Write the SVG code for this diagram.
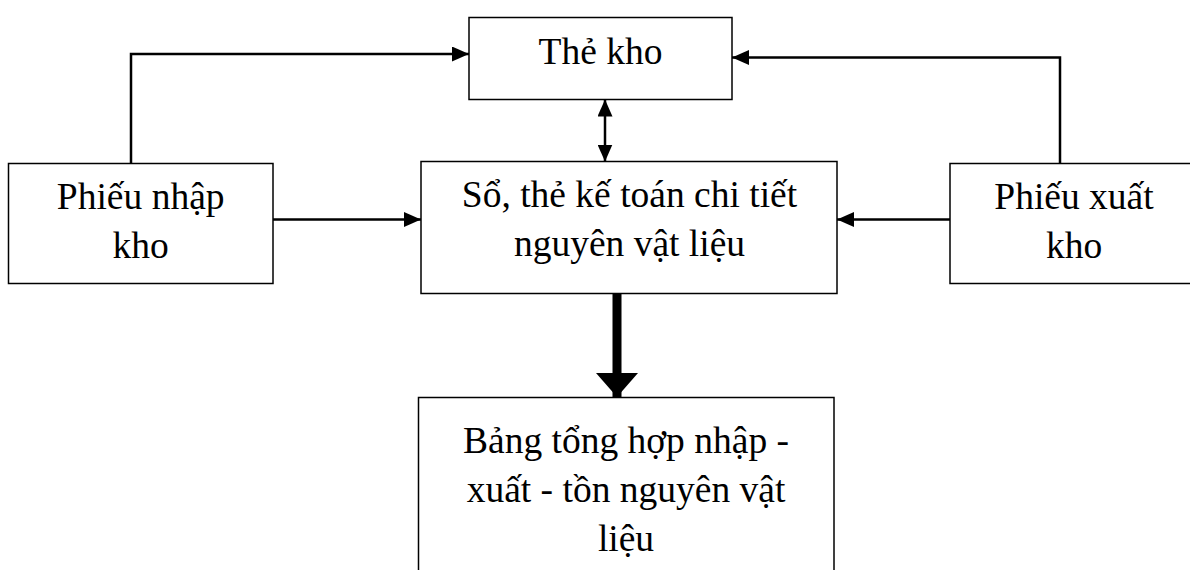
<svg xmlns="http://www.w3.org/2000/svg" width="1190" height="570" viewBox="0 0 1190 570">
  <style>
    .box { fill: #ffffff; stroke: #000000; stroke-width: 1.5; }
    .lbl { font-family: "Liberation Serif", "Times New Roman", serif; font-size: 37.5px; fill: #000000; text-anchor: middle; }
    .wire { fill: none; stroke: #000000; stroke-width: 2.5; }
    .thick { fill: none; stroke: #000000; stroke-width: 9; }
  </style>
  <defs>
    <marker id="head" markerUnits="userSpaceOnUse" markerWidth="17" markerHeight="15" refX="17" refY="7.5" orient="auto-start-reverse">
      <path d="M0,0 L17,7.5 L0,15 z" fill="#000000"/>
    </marker>
    <marker id="bighead" markerUnits="userSpaceOnUse" markerWidth="24" markerHeight="42" refX="24" refY="21" orient="auto">
      <path d="M0,0 L24,21 L0,42 z" fill="#000000"/>
    </marker>
  </defs>
  <rect width="1190" height="570" fill="#ffffff"/>

  <g id="connectors">
    <!-- Phiếu nhập kho -> Thẻ kho -->
    <path class="wire" d="M131,163.5 V54 H469" marker-end="url(#head)"/>
    <!-- Phiếu xuất kho -> Thẻ kho -->
    <path class="wire" d="M1060,163.5 V57.5 H732" marker-end="url(#head)"/>
    <!-- Thẻ kho <-> Sổ, thẻ kế toán chi tiết -->
    <path class="wire" d="M605,99.5 V161.5" marker-start="url(#head)" marker-end="url(#head)"/>
    <!-- Phiếu nhập kho -> Sổ chi tiết -->
    <path class="wire" d="M273,219.5 H421" marker-end="url(#head)"/>
    <!-- Phiếu xuất kho -> Sổ chi tiết -->
    <path class="wire" d="M950,219.5 H837" marker-end="url(#head)"/>
    <!-- Sổ chi tiết -> Bảng tổng hợp -->
    <path class="thick" d="M617,293.5 V397" marker-end="url(#bighead)"/>
  </g>

  <g id="the-kho">
    <rect class="box" x="469" y="17.5" width="263" height="82"/>
    <text class="lbl" x="600.5" y="63.5">Thẻ kho</text>
  </g>

  <g id="phieu-nhap-kho">
    <rect class="box" x="8.5" y="163.5" width="264.5" height="120"/>
    <text class="lbl" x="140.7" y="209">Phiếu nhập</text>
    <text class="lbl" x="140.7" y="258">kho</text>
  </g>

  <g id="so-chi-tiet">
    <rect class="box" x="421" y="161.5" width="416" height="132"/>
    <text class="lbl" x="629.5" y="207">Sổ, thẻ kế toán chi tiết</text>
    <text class="lbl" x="629.5" y="256">nguyên vật liệu</text>
  </g>

  <g id="phieu-xuat-kho">
    <rect class="box" x="950" y="163.5" width="250" height="120"/>
    <text class="lbl" x="1074" y="209">Phiếu xuất</text>
    <text class="lbl" x="1074" y="258">kho</text>
  </g>

  <g id="bang-tong-hop">
    <rect class="box" x="418.5" y="397.5" width="415.5" height="190"/>
    <text class="lbl" x="626" y="453">Bảng tổng hợp nhập -</text>
    <text class="lbl" x="626" y="502">xuất - tồn nguyên vật</text>
    <text class="lbl" x="626" y="551">liệu</text>
  </g>
</svg>
